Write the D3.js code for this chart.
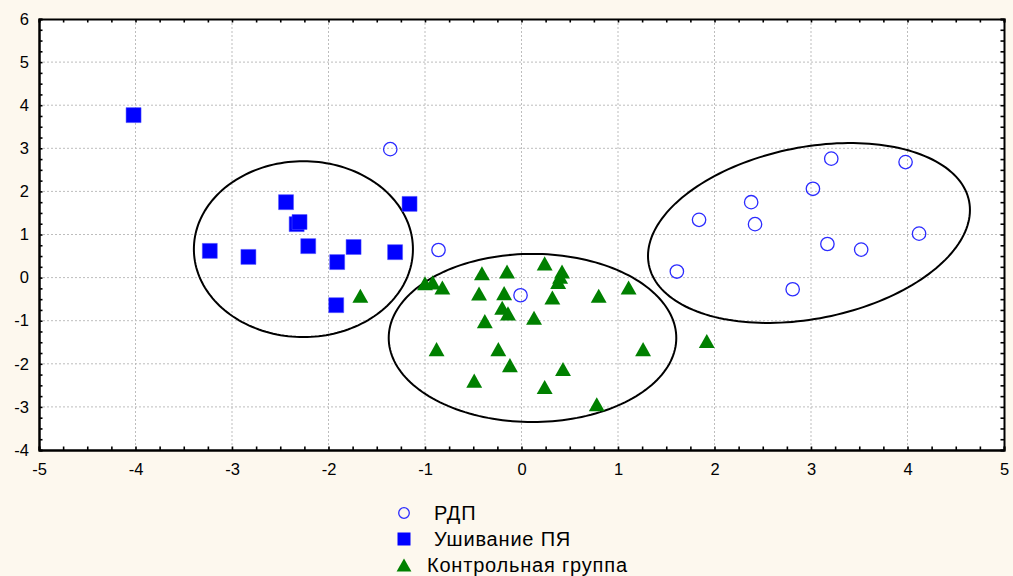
<!DOCTYPE html>
<html>
<head>
<meta charset="utf-8">
<script src="https://cdn.jsdelivr.net/npm/d3@7"></script>
<style>
  html, body { margin: 0; padding: 0; background: #fdf8ee; }
  svg { display: block; font-family: "Liberation Sans", Arial, sans-serif; }
</style>
</head>
<body>
<div id="chart-area"></div>
<script>
// group names (legend order)
let groups = ["РДП", "Ушивание ПЯ", "Контрольная группа"];

// РДП - open circles
let rdp = [[-1.36, 2.98], [-0.86, 0.64], [-0.01, -0.41], [1.61, 0.14], [1.84, 1.34], [2.38, 1.75],
    [2.42, 1.24], [2.81, -0.27], [3.02, 2.06], [3.17, 0.78], [3.21, 2.76], [3.52, 0.65],
    [3.98, 2.68], [4.12, 1.02]];

// Ушивание ПЯ - filled squares
let sutures = [[-4.02, 3.77], [-3.23, 0.62], [-2.83, 0.48], [-2.44, 1.75], [-2.33, 1.24], [-2.30, 1.29],
    [-2.21, 0.73], [-1.91, 0.36], [-1.92, -0.64], [-1.74, 0.71], [-1.31, 0.59], [-1.16, 1.71]];

// Контрольная группа - triangles
let control = [[-1.67, -0.42], [-1.00, -0.13], [-0.92, -0.11], [-0.82, -0.23], [-0.88, -1.66], [-0.49, -2.39],
    [-0.44, -0.37], [-0.41, 0.10], [-0.38, -1.01], [-0.24, -1.66], [-0.20, -0.70], [-0.18, -0.36],
    [-0.15, 0.14], [-0.14, -0.83], [-0.12, -2.03], [0.13, -0.93], [0.24, 0.33], [0.24, -2.54],
    [0.32, -0.46], [0.38, -0.10], [0.40, 0.02], [0.42, 0.14], [0.43, -2.12], [0.78, -2.94],
    [0.80, -0.42], [1.11, -0.23], [1.26, -1.66], [1.92, -1.47]];

// ellipses: center x, center y, first semi-axis (x,y), second semi-axis (x,y), in data units
let ellipses = [[-2.26, 0.66, 1.135, 0, 0, 2.04],
    [0.114, -1.40, 1.49, 0, 0, 1.95],
    [2.979, 1.035, 1.659, 0.741, -0.174, 1.951]];

let xTicks = [-5, -4, -3, -2, -1, 0, 1, 2, 3, 4, 5];
let yTicks = [-4, -3, -2, -1, 0, 1, 2, 3, 4, 5, 6];

let W = 1013, H = 576;
let svg = d3.select("#chart-area").append("svg")
    .attr("width", W).attr("height", H);

svg.append("rect").attr("width", W).attr("height", H).attr("fill", "#fdf8ee");

let x = d3.scaleLinear().domain([-5, 5]).range([39, 1004]);
let y = d3.scaleLinear().domain([-4, 6]).range([450, 19]);

// plot area
svg.append("rect")
    .attr("x", x(-5)).attr("y", y(6))
    .attr("width", x(5) - x(-5)).attr("height", y(-4) - y(6))
    .attr("fill", "#fff");

// dotted grid
svg.append("g").selectAll("line").data(xTicks.slice(1, -1)).enter().append("line")
    .attr("x1", d => x(d)).attr("x2", d => x(d))
    .attr("y1", y(6)).attr("y2", y(-4))
    .attr("stroke", "#bdbdbd").attr("stroke-dasharray", "2,2");
svg.append("g").selectAll("line").data(yTicks.slice(1, -1)).enter().append("line")
    .attr("y1", d => y(d)).attr("y2", d => y(d))
    .attr("x1", x(-5)).attr("x2", x(5))
    .attr("stroke", "#bdbdbd").attr("stroke-dasharray", "2,2");

// ellipses
let ellipseLine = d3.line().x(d => x(d[0])).y(d => y(d[1])).curve(d3.curveLinearClosed);
svg.append("g").selectAll("path").data(ellipses).enter().append("path")
    .attr("d", e => ellipseLine(d3.range(0, 360, 2).map(a => {
        let t = a * Math.PI / 180;
        return [e[0] + e[2] * Math.cos(t) + e[4] * Math.sin(t),
                e[1] + e[3] * Math.cos(t) + e[5] * Math.sin(t)];
    })))
    .attr("fill", "none").attr("stroke", "#000").attr("stroke-width", 2);

// triangle centered on its bounding box
let triangleBox = {
    draw: function(ctx, size) {
        let s = Math.sqrt(size);
        ctx.moveTo(0, -s * 0.47);
        ctx.lineTo(s * 0.53, s * 0.47);
        ctx.lineTo(-s * 0.53, s * 0.47);
        ctx.closePath();
    }
};

// points
svg.append("g").selectAll("circle").data(rdp).enter().append("circle")
    .attr("cx", d => x(d[0])).attr("cy", d => y(d[1])).attr("r", 6.7)
    .attr("fill", "none").attr("stroke", "#2b2bff").attr("stroke-width", 1.3);

svg.append("g").selectAll("path").data(sutures).enter().append("path")
    .attr("transform", d => "translate(" + x(d[0]) + "," + y(d[1]) + ")")
    .attr("d", d3.symbol().type(d3.symbolSquare).size(15 * 15))
    .attr("fill", "#0000ff").attr("stroke", "#5555ff").attr("stroke-width", 0.5);

svg.append("g").selectAll("path").data(control).enter().append("path")
    .attr("transform", d => "translate(" + x(d[0]) + "," + y(d[1]) + ")")
    .attr("d", d3.symbol().type(triangleBox).size(15 * 15))
    .attr("fill", "#008000");

// axes with inside ticks
let fmt = d => String(d);   // plain hyphen for negatives, like the original
let minorX = d3.range(-5, 5.01, 0.25), minorY = d3.range(-4, 6.01, 0.25);
let axBottom = svg.append("g").attr("transform", "translate(0," + y(-4) + ")")
    .call(d3.axisBottom(x).tickValues(xTicks).tickSize(0).tickPadding(13).tickFormat(fmt));
let axLeft = svg.append("g").attr("transform", "translate(" + x(-5) + ",0)")
    .call(d3.axisLeft(y).tickValues(yTicks).tickSize(0).tickPadding(10).tickFormat(fmt));
let axTop = svg.append("g").attr("transform", "translate(0," + y(6) + ")")
    .call(d3.axisTop(x).tickValues(minorX).tickSize(-3.5).tickFormat(""));
let axRight = svg.append("g").attr("transform", "translate(" + x(5) + ",0)")
    .call(d3.axisRight(y).tickValues(minorY).tickSize(-3.5).tickFormat(""));
svg.append("g").attr("transform", "translate(0," + y(-4) + ")")
    .call(d3.axisBottom(x).tickValues(minorX).tickSize(-3.5).tickFormat(""));
svg.append("g").attr("transform", "translate(" + x(-5) + ",0)")
    .call(d3.axisLeft(y).tickValues(minorY).tickSize(-3.5).tickFormat(""));

svg.selectAll(".domain").attr("stroke", "#000").attr("stroke-width", 2);
svg.selectAll(".tick line").attr("stroke", "#000").attr("stroke-width", 1.6);
svg.selectAll(".tick text").attr("fill", "#000").style("font-size", "16.5px");

// legend
let legend = svg.append("g");
let legendY = d3.scalePoint().domain(groups).range([513, 565]);
legend.append("circle")
    .attr("cx", 404).attr("cy", legendY(groups[0])).attr("r", 5.3)
    .attr("fill", "none").attr("stroke", "#2b2bff").attr("stroke-width", 1.3);
legend.append("path")
    .attr("transform", "translate(404," + legendY(groups[1]) + ")")
    .attr("d", d3.symbol().type(d3.symbolSquare).size(13 * 13))
    .attr("fill", "#0000ff");
legend.append("path")
    .attr("transform", "translate(404," + legendY(groups[2]) + ")")
    .attr("d", d3.symbol().type(triangleBox).size(14 * 14))
    .attr("fill", "#008000");
legend.selectAll("text").data(groups).enter().append("text")
    .attr("x", (d, i) => i == 2 ? 427 : 434)
    .attr("y", d => legendY(d))
    .attr("dy", "0.35em")
    .style("font-size", "20px")
    .style("letter-spacing", "0.8px")
    .attr("fill", "#000")
    .text(d => d);
</script>
</body>
</html>
